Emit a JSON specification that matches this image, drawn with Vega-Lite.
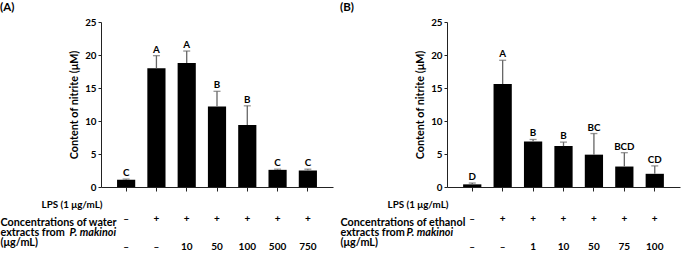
{
  "$schema": "https://vega.github.io/schema/vega-lite/v6.json",
  "padding": {"left": 0, "top": 1, "right": 5, "bottom": 0},
  "spacing": 7,
  "config": {
    "font": "Lato",
    "view": {"stroke": null},
    "axis": {"labelFont": "Lato", "titleFont": "Lato", "labelFontWeight": "bold", "titleFontWeight": "bold", "labelColor": "#000", "titleColor": "#000", "domainColor": "#222", "tickColor": "#222", "grid": false},
    "title": {"font": "Lato", "fontWeight": "bold", "fontSize": 11.5, "anchor": "start", "frame": "bounds", "offset": 4, "color": "#000"}
  },
  "datasets": {
    "water": [
      {"group": "–|–", "mean": 1.1, "upper": 1.2, "sig": "C"},
      {"group": "+|–", "mean": 18.0, "upper": 19.9, "sig": "A"},
      {"group": "+|10", "mean": 18.8, "upper": 20.6, "sig": "A"},
      {"group": "+|50", "mean": 12.2, "upper": 14.5, "sig": "B"},
      {"group": "+|100", "mean": 9.4, "upper": 12.3, "sig": "B"},
      {"group": "+|500", "mean": 2.6, "upper": 2.7, "sig": "C"},
      {"group": "+|750", "mean": 2.5, "upper": 2.7, "sig": "C"}
    ],
    "ethanol": [
      {"group": "–|–", "mean": 0.4, "upper": 0.6, "sig": "D"},
      {"group": "+|–", "mean": 15.6, "upper": 19.2, "sig": "A"},
      {"group": "+|1", "mean": 6.9, "upper": 7.2, "sig": "B"},
      {"group": "+|10", "mean": 6.2, "upper": 6.8, "sig": "B"},
      {"group": "+|50", "mean": 4.9, "upper": 8.1, "sig": "BC"},
      {"group": "+|75", "mean": 3.1, "upper": 5.2, "sig": "BCD"},
      {"group": "+|100", "mean": 2.0, "upper": 3.2, "sig": "CD"}
    ]
  },
  "hconcat": [
    {
      "title": "(A)",
      "width": 232,
      "height": 165,
      "data": {"name": "water"},
      "resolve": {"axis": {"x": "independent"}},
      "encoding": {
        "y": {"type": "quantitative", "scale": {"domain": [0, 25], "nice": false},
          "axis": {"values": [0, 5, 10, 15, 20, 25], "title": "Content of nitrite (μM)", "titleFontSize": 10.8, "labelFontSize": 9.8, "tickSize": 3, "labelPadding": 2, "titlePadding": 5}}
      },
      "layer": [
        {
          "mark": {"type": "bar", "color": "#000"},
          "encoding": {
            "x": {"field": "group", "type": "nominal", "sort": null,
              "scale": {"paddingInner": 0.4, "paddingOuter": 0.53},
              "axis": {"orient": "bottom", "labelExpr": "split(datum.value, '|')", "labelAngle": 0, "labelFontSize": 10, "labelLineHeight": 28, "labelBaseline": "middle", "labelPadding": 27, "tickSize": 4,
                "title": "LPS (1 μg/mL)", "titleFontSize": 9.8, "titleAlign": "right", "titleBaseline": "middle", "titleX": 1, "titleY": 17}},
            "y": {"field": "mean"}
          }
        },
        {
          "mark": {"type": "rule", "color": "#666", "strokeWidth": 1.3},
          "encoding": {
            "x": {"field": "group", "type": "nominal", "sort": null,
              "axis": {"orient": "bottom", "labels": false, "ticks": false, "domain": false,
                "title": ["Concentrations of water", "extracts from", "(μg/mL)"], "titleFontSize": 10.8, "titleLineHeight": 9.8, "titleAlign": "left", "titleBaseline": "middle", "titleX": -101, "titleY": 35.9}},
            "y": {"field": "mean"},
            "y2": {"field": "upper"}
          }
        },
        {
          "mark": {"type": "tick", "color": "#666", "size": 7, "thickness": 1.3},
          "encoding": {
            "x": {"field": "group", "type": "nominal", "sort": null,
              "axis": {"orient": "bottom", "labels": false, "ticks": false, "domain": false,
                "title": "P. makinoi", "titleFontStyle": "italic", "titleFontSize": 10.8, "titleAlign": "left", "titleBaseline": "middle", "titleX": -32, "titleY": 45.7}},
            "y": {"field": "upper"}
          }
        },
        {
          "mark": {"type": "text", "fontWeight": "bold", "fontSize": 9.8, "baseline": "bottom", "dy": -1, "color": "#000"},
          "encoding": {
            "x": {"field": "group", "type": "nominal", "sort": null, "axis": null},
            "y": {"field": "upper"},
            "text": {"field": "sig"}
          }
        }
      ]
    },
    {
      "title": "(B)",
      "width": 233,
      "height": 165,
      "data": {"name": "ethanol"},
      "resolve": {"axis": {"x": "independent"}},
      "encoding": {
        "y": {"type": "quantitative", "scale": {"domain": [0, 25], "nice": false},
          "axis": {"values": [0, 5, 10, 15, 20, 25], "title": "Content of nitrite (μM)", "titleFontSize": 10.8, "labelFontSize": 9.8, "tickSize": 3, "labelPadding": 2, "titlePadding": 5}}
      },
      "layer": [
        {
          "mark": {"type": "bar", "color": "#000"},
          "encoding": {
            "x": {"field": "group", "type": "nominal", "sort": null,
              "scale": {"paddingInner": 0.4, "paddingOuter": 0.53},
              "axis": {"orient": "bottom", "labelExpr": "split(datum.value, '|')", "labelAngle": 0, "labelFontSize": 10, "labelLineHeight": 28, "labelBaseline": "middle", "labelPadding": 27, "tickSize": 4,
                "title": "LPS (1 μg/mL)", "titleFontSize": 9.8, "titleAlign": "right", "titleBaseline": "middle", "titleX": 1, "titleY": 17}},
            "y": {"field": "mean"}
          }
        },
        {
          "mark": {"type": "rule", "color": "#666", "strokeWidth": 1.3},
          "encoding": {
            "x": {"field": "group", "type": "nominal", "sort": null,
              "axis": {"orient": "bottom", "labels": false, "ticks": false, "domain": false,
                "title": ["Concentrations of ethanol", "extracts from", "(μg/mL)"], "titleFontSize": 10.8, "titleLineHeight": 9.8, "titleAlign": "left", "titleBaseline": "middle", "titleX": -107, "titleY": 35.9}},
            "y": {"field": "mean"},
            "y2": {"field": "upper"}
          }
        },
        {
          "mark": {"type": "tick", "color": "#666", "size": 7, "thickness": 1.3},
          "encoding": {
            "x": {"field": "group", "type": "nominal", "sort": null,
              "axis": {"orient": "bottom", "labels": false, "ticks": false, "domain": false,
                "title": "P.  makinoi", "titleFontStyle": "italic", "titleFontSize": 10.8, "titleAlign": "left", "titleBaseline": "middle", "titleX": -41, "titleY": 45.7}},
            "y": {"field": "upper"}
          }
        },
        {
          "mark": {"type": "text", "fontWeight": "bold", "fontSize": 9.8, "baseline": "bottom", "dy": -1, "color": "#000"},
          "encoding": {
            "x": {"field": "group", "type": "nominal", "sort": null, "axis": null},
            "y": {"field": "upper"},
            "text": {"field": "sig"}
          }
        }
      ]
    }
  ]
}
